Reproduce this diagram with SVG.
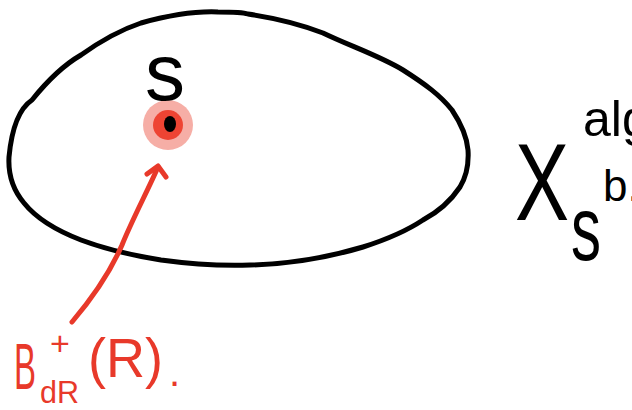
<svg xmlns="http://www.w3.org/2000/svg" width="632" height="410" viewBox="0 0 632 410">
<style>
.ink{fill:none;stroke:#000;stroke-width:5;stroke-linecap:round;stroke-linejoin:round}
.red{fill:none;stroke:#e8392a;stroke-width:5;stroke-linecap:round;stroke-linejoin:round}
.tb{font-family:"Liberation Sans",Arial,sans-serif;fill:#000}
.tr{font-family:"Liberation Sans",Arial,sans-serif;fill:#e8392a}
</style>
<rect width="632" height="410" fill="#fff"/>
<g id="space">
<path class="ink" d="M9,157 C12,125 20,108 32,100 C48,80 62,66 81,55 C102,40 120,30 141,23 C170,15 195,11 218,12 C232,12 242,12 248,14 C275,18 300,24 323,33 C350,46 380,56 403,70 C425,84 440,95 452,110 C462,125 467,138 468,150 C469,165 466,177 460,187 C450,202 438,212 423,220 C405,232 385,240 363,247 C330,257 290,264 250,265 C220,266 190,264 161,260 C130,255 105,249 81,240 C55,230 36,218 24,203 C13,190 8,175 9,157 Z"/>
</g>
<g id="point-s">
<circle cx="168" cy="125" r="25" fill="#f6aea6"/>
<circle cx="168" cy="125" r="15" fill="#ee4433"/>
<ellipse cx="170" cy="124" rx="6" ry="8" fill="#000"/>
<text class="tb" x="145" y="100" font-size="80">s</text>
</g>
<g id="label-B">
<text class="tr" x="14" y="389" font-size="64" textLength="22" lengthAdjust="spacingAndGlyphs">B</text>
<text class="tr" x="50" y="355" font-size="34">+</text>
<text class="tr" x="40" y="403" font-size="32" textLength="39" lengthAdjust="spacingAndGlyphs">dR</text>
<text class="tr" x="88" y="377" font-size="56" textLength="75" lengthAdjust="spacingAndGlyphs">(R)</text>
<text class="tr" x="169" y="386" font-size="40">.</text>
</g>
<g id="label-X">
<text class="tb" x="515" y="220" font-size="110" textLength="54" lengthAdjust="spacingAndGlyphs">X</text>
<text class="tb" x="583" y="136" font-size="50">alg</text>
<text class="tb" x="603" y="201" font-size="44">b.</text>
<text class="tb" x="571" y="260" font-size="90" textLength="30" lengthAdjust="spacingAndGlyphs">s</text>
</g>
<g id="connectors">
<path class="red" d="M72,322 C95,295 112,268 122,245 C132,220 148,190 158,167"/>
<polyline class="red" points="147,174 158,166 166,177"/>
</g>
</svg>
